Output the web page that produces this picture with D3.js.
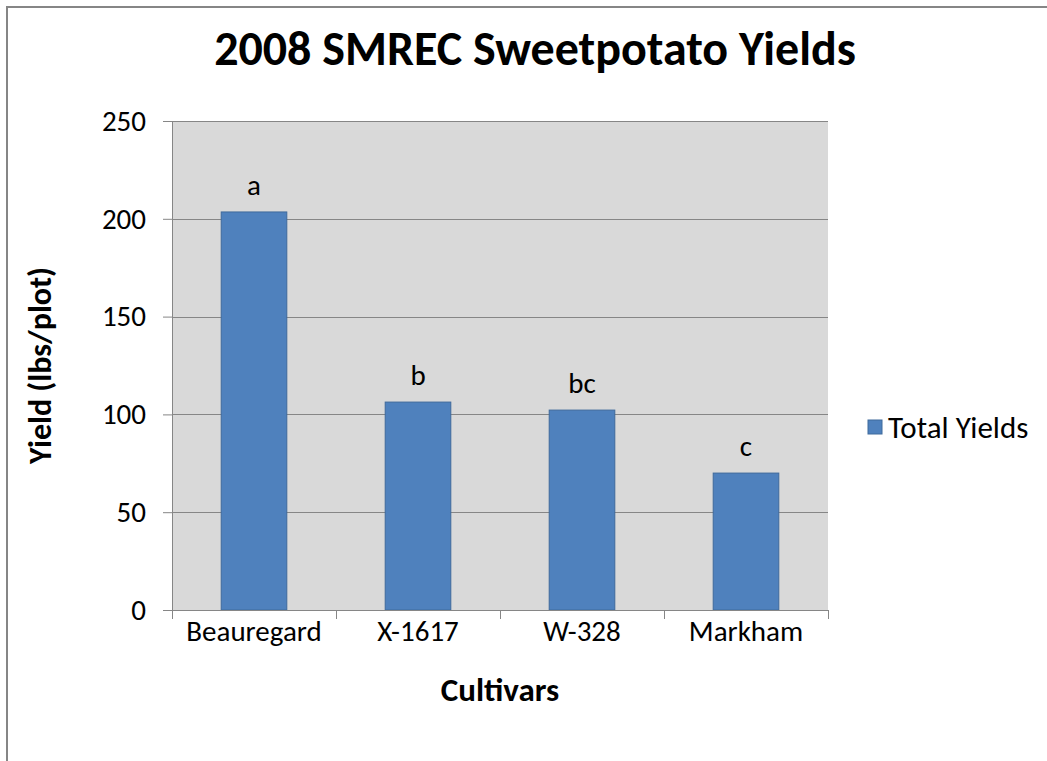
<!DOCTYPE html>
<html>
<head>
<meta charset="utf-8">
<script src="https://cdn.jsdelivr.net/npm/d3@7"></script>
<style>
  body { margin: 0; background: #fff; }
  text { font-family: Carlito, Calibri, Lato, sans-serif; fill: #000; }
</style>
</head>
<body>
<svg id="chart" width="1047" height="761"></svg>
<script>
// Daten
const cultivars = ["Beauregard", "X-1617", "W-328", "Markham"];
const yields = [203.5, 106.3, 102.2, 70.0];
const letters = ["a", "b", "bc", "c"];
const yTicks = [0, 50, 100, 150, 200, 250];
const seriesName = "Total Yields";

const svg = d3.select("#chart");

// Rahmen um das Diagramm (läuft rechts und unten aus dem Bild)
svg.append("rect")
  .attr("x", 7).attr("y", 7)
  .attr("width", 1100).attr("height", 800)
  .attr("fill", "#fff")
  .attr("stroke", "#868686")
  .attr("stroke-width", 2);

var plot = { left: 172, right: 828, top: 121, bottom: 610 };

// Lückenbreite 150% wie in Excel
var x = d3.scaleBand()
  .domain(cultivars)
  .range([plot.left, plot.right])
  .paddingInner(0.6)
  .paddingOuter(0.3);

var y = d3.scaleLinear()
  .domain([0, 250])
  .range([plot.bottom, plot.top]);

// Plotfläche
svg.append("rect")
  .attr("x", plot.left).attr("y", plot.top)
  .attr("width", plot.right - plot.left)
  .attr("height", plot.bottom - plot.top)
  .attr("fill", "#d9d9d9");

// Gitterlinien
svg.append("g")
  .selectAll("line")
  .data(yTicks.filter(d => d > 0))
  .enter()
  .append("line")
  .attr("x1", plot.left).attr("x2", plot.right)
  .attr("y1", d => Math.round(y(d)) + 0.5)
  .attr("y2", d => Math.round(y(d)) + 0.5)
  .attr("stroke", "#868686")
  .attr("stroke-width", 1);

// Balken
svg.append("g")
  .selectAll("rect")
  .data(cultivars)
  .enter()
  .append("rect")
  .attr("x", d => x(d))
  .attr("y", (d, i) => y(yields[i]))
  .attr("width", x.bandwidth())
  .attr("height", (d, i) => y(0) - y(yields[i]))
  .attr("fill", "#4f81bd")
  .attr("stroke", "#3f6a9c")
  .attr("stroke-width", 1);

// Buchstaben über den Balken
svg.append("g")
  .selectAll("text")
  .data(cultivars)
  .enter()
  .append("text")
  .attr("x", d => x(d) + x.bandwidth() / 2)
  .attr("y", (d, i) => y(yields[i]) - 17)
  .attr("text-anchor", "middle")
  .attr("font-size", 29)
  .text((d, i) => letters[i]);

// y-Achse
var yAxis = svg.append("g")
  .attr("transform", "translate(" + plot.left + ",0)")
  .call(d3.axisLeft(y).tickValues(yTicks).tickSize(9).tickPadding(17).tickFormat(d3.format("d")));
yAxis.select(".domain").attr("stroke", "#868686").attr("d", "M0.5," + plot.top + "V" + plot.bottom);
yAxis.selectAll(".tick line").attr("stroke", "#868686");
yAxis.selectAll(".tick text").attr("font-size", 29).attr("fill", "#000")
  .style("font-family", "Carlito, Calibri, Lato, sans-serif");

// x-Achse
var xAxis = svg.append("g")
  .attr("transform", "translate(0," + plot.bottom + ")")
  .call(d3.axisBottom(x).tickSize(0).tickPadding(10));
xAxis.select(".domain").attr("stroke", "#868686").attr("d", "M" + (plot.left - 9) + ",0.5H" + plot.right);
xAxis.selectAll(".tick text").attr("font-size", 29).attr("fill", "#000")
  .style("font-family", "Carlito, Calibri, Lato, sans-serif");

// Teilstriche zwischen den Kategorien
var bounds = cultivars.map(d => x(d) - (x.step() - x.bandwidth()) / 2);
bounds.push(plot.right);
svg.append("g")
  .selectAll("line")
  .data(bounds)
  .enter()
  .append("line")
  .attr("x1", d => Math.round(d) + 0.5).attr("x2", d => Math.round(d) + 0.5)
  .attr("y1", plot.bottom).attr("y2", plot.bottom + 9)
  .attr("stroke", "#868686");

// Titel
svg.append("text")
  .attr("x", 535).attr("y", 65)
  .attr("text-anchor", "middle")
  .attr("font-size", 48)
  .attr("font-weight", "bold")
  .text("2008 SMREC Sweetpotato Yields");

// Achsentitel
svg.append("text")
  .attr("x", (plot.left + plot.right) / 2).attr("y", 701)
  .attr("text-anchor", "middle")
  .attr("font-size", 33)
  .attr("font-weight", "bold")
  .text("Cultivars");

svg.append("text")
  .attr("transform", "translate(51," + ((plot.top + plot.bottom) / 2) + ") rotate(-90)")
  .attr("text-anchor", "middle")
  .attr("font-size", 32)
  .attr("font-weight", "bold")
  .text("Yield (lbs/plot)");

// Legende
var legend = svg.append("g").attr("transform", "translate(868,420)");
legend.append("rect")
  .attr("width", 14).attr("height", 14)
  .attr("fill", "#4f81bd")
  .attr("stroke", "#3f6a9c");
legend.append("text")
  .attr("x", 20).attr("y", 18)
  .attr("font-size", 31)
  .text(seriesName);
</script>
</body>
</html>
